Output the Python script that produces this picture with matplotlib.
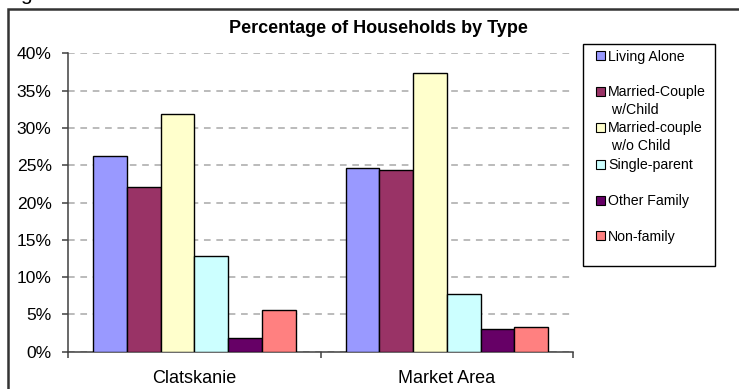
import matplotlib.pyplot as plt
from matplotlib.patches import Rectangle
import numpy as np

# Data ---

categories = ['Clatskanie', 'Market Area']
series = ['Living Alone', 'Married-Couple\n w/Child', 'Married-couple\n w/o Child',
          'Single-parent', 'Other Family', 'Non-family']

living_alone = [26.3, 24.6]
married_child = [22.1, 24.4]
married_no_child = [31.9, 37.4]
single_parent = [12.8, 7.8]
other_family = [1.8, 3.1]
non_family = [5.6, 3.3]

colors = ['#9999FF', '#993366', '#FFFFCC', '#CCFFFF', '#660066', '#FF8080']
yticks = [0, 5, 10, 15, 20, 25, 30, 35, 40]

# Settings ---

plt.rcParams['font.family'] = ['Liberation Sans', 'DejaVu Sans']
plt.rcParams['lines.scale_dashes'] = False
W, H = 739, 389

fig = plt.figure(figsize=(W / 100, H / 100), dpi=100)
ax = fig.add_axes([68.3 / W, 1 - 351.7 / H, (573 - 68.3) / W, (351.7 - 53.3) / H])

values = [living_alone, married_child, married_no_child, single_parent, other_family, non_family]
x = np.arange(len(categories))
width = 0.1335

bars = []
for k, vals in enumerate(values):
    b = ax.bar(x + (k - 2.5) * width, vals, width, color=colors[k],
               edgecolor='black', linewidth=1.0, zorder=3, label=series[k])
    bars.append(b)

ax.set_xlim(-0.5, len(categories) - 0.5)
ax.set_ylim(0, 40)
ax.set_yticks(yticks)
ax.set_yticklabels(['%d%%' % t for t in yticks])
ax.set_xticks(x)
ax.set_xticklabels(categories)
ax.set_xticks(np.arange(len(categories) + 1) - 0.5, minor=True)
# lengths and pads are in points (1 px = 0.72 pt here)
ax.tick_params(axis='x', which='major', length=0, pad=13, labelsize=13)
ax.tick_params(axis='x', which='minor', length=4, width=1.1, color='#404040', direction='out')
ax.tick_params(axis='y', length=4, width=1.1, color='#404040', pad=8, labelsize=12.6)

for side in ['top', 'right']:
    ax.spines[side].set_visible(False)
for side in ['left', 'bottom']:
    ax.spines[side].set_color('#404040')
    ax.spines[side].set_linewidth(1.1)

ax.yaxis.grid(True, color='#A8A8A8', linewidth=1.1, linestyle=(0, (4.8, 4.1)), zorder=0)
ax.set_axisbelow(True)

# Title
fig.text(378.9 / W, 1 - 32.7 / H, 'Percentage of Households by Type', ha='center',
         va='baseline', fontsize=13, fontweight='bold')

# cut-off caption letter above the frame
fig.text(20 / W, 1.0 + 0.5 / H, 'g', fontsize=15, va='baseline')

# Outer chart frame (runs past right and bottom edge)
top = 1 - 9.3 / H
fig.add_artist(Rectangle((8.3 / W, -0.2), 1.2, top + 0.2,
                         transform=fig.transFigure, fill=False, edgecolor='#333333', linewidth=1.8))

# Legend drawn by hand so the slots keep Excel's even spacing
fig.add_artist(Rectangle((583.3 / W, 1 - 266 / H), (715 - 583.3) / W, (266 - 44.3) / H,
                         transform=fig.transFigure, fill=False, edgecolor='black', linewidth=1.0))
slot_centers = [55.5, 91, 127, 164, 200, 236]
line_step = 18.3
for k, name in enumerate(series):
    yc = slot_centers[k]
    nlines = name.count('\n') + 1
    fig.add_artist(Rectangle((596 / W, 1 - (yc + 4.5) / H), 9 / W, 9 / H,
                             transform=fig.transFigure,
                             facecolor=bars[k].patches[0].get_facecolor(),
                             edgecolor='black', linewidth=0.8))
    # baseline alignment uses the last line, so push down for wrapped labels
    fig.text(608.3 / W, 1 - (yc + 5 + (nlines - 1) * line_step) / H, name, fontsize=10.2,
             va='baseline', ha='left', linespacing=1.35)

fig.savefig('out.png', dpi=100)
